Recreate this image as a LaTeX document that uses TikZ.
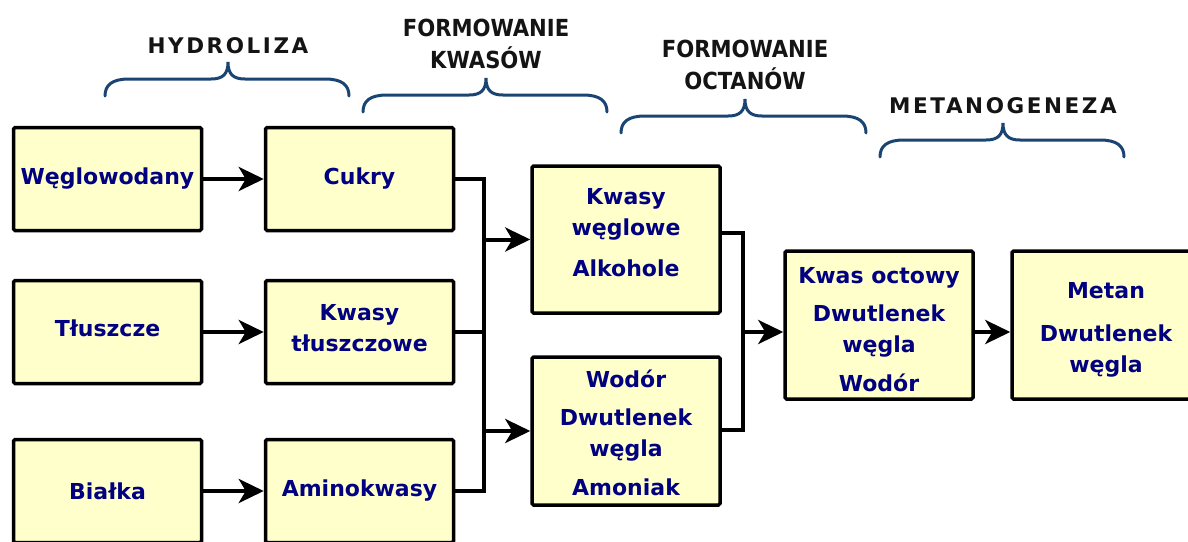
\documentclass[tikz,border=0pt]{standalone}
\usepackage{fontspec}
\setmainfont{DejaVu Sans}
\newfontfamily\bxf{DejaVu Sans Bold}
\newfontfamily\hdsp{DejaVu Sans Bold}[LetterSpace=12]
\newfontfamily\hdcond{DejaVu Sans Condensed Bold}
\usetikzlibrary{arrows.meta}
\definecolor{boxfill}{HTML}{FFFFCC}
\definecolor{boxtext}{HTML}{000080}
\definecolor{bracecol}{HTML}{1A4472}
\tikzset{
  box/.style={draw=black, line width=3.5pt, fill=boxfill, rounded corners=1.5pt,
    minimum width=188pt, text=boxtext, font=\bxf\fontsize{22}{31}\selectfont,
    align=center, inner sep=2pt},
  smallbox/.style={box, minimum height=103pt},
  tallbox/.style={box, minimum height=148pt},
  conn/.style={line width=4pt, draw=black},
  arr/.style={conn, -{Stealth[length=25pt,width=24pt,inset=7pt]}},
  brc/.style={draw=bracecol, line width=3pt, line cap=round},
  hdr/.style={text=black!92, align=center, inner sep=0pt},
  hdrsp/.style={hdr, font=\hdsp\fontsize{21.5}{24}\selectfont},
  hdrcond/.style={hdr, font=\hdcond\fontsize{23.5}{32}\selectfont},
}
\newcommand\mybrace[4]{% left x, middle x, right x, bottom y
  \draw[brc] (#1,#4) .. controls (#1,#4-11) and (#1+7,#4-17) .. (#1+24,#4-17)
    -- (#2-17,#4-17) .. controls (#2-5,#4-17) and (#2,#4-22) .. (#2,#4-34)
    .. controls (#2,#4-22) and (#2+5,#4-17) .. (#2+17,#4-17)
    -- (#3-24,#4-17) .. controls (#3-7,#4-17) and (#3,#4-11) .. (#3,#4);
}
\newcommand\dn[1]{\rule[-#1pt]{0pt}{#1pt}}% extra depth: moves text up by #1/2
\newcommand\up[1]{\rule{0pt}{#1pt}}% extra height on first line: moves text down
\begin{document}
\begin{tikzpicture}[x=1pt,y=-1pt]
\path[use as bounding box, fill=white] (0,0) rectangle (1188,541);
\clip (0,0) rectangle (1188,541);

% headers and braces
\node[hdrsp] (h1) at (228,46) {HYDROLIZA};
\node[hdrcond] (h2) at (486,44) {FORMOWANIE\\KWASÓW};
\node[hdrcond] (h3) at (745,65) {FORMOWANIE\\OCTANÓW};
\node[hdrsp] (h4) at (1003,106) {METANOGENEZA};
\mybrace{105}{228}{349}{96}
\mybrace{363}{486}{607}{112}
\mybrace{621}{745}{866}{133}
\mybrace{880}{1003}{1124}{157}

% boxes
\node[smallbox] (wegl) at (107.5,179) {Węglowodany};
\node[smallbox] (cuk) at (359.5,179) {Cukry};
\node[smallbox] (tlu) at (107.5,332) {Tłuszcze\dn{8}};
\node[smallbox] (ktl) at (359.5,332) {Kwasy\\tłuszczowe\dn{9}};
\node[smallbox] (bia) at (107.5,491) {Białka};
\node[smallbox] (ami) at (359.5,491) {Aminokwasy};
\node[tallbox, minimum height=147pt] (kwe) at (626,239.5) {Kwasy\\węglowe\\[10pt]Alkohole\dn{14}};
\node[tallbox] (wod) at (626,431) {\up{21}Wodór\\[7pt]Dwutlenek\\węgla\\[8pt]Amoniak};
\node[tallbox] (oct) at (879,325) {\up{25}Kwas octowy\\[7pt]Dwutlenek\\węgla\\[8pt]Wodór};
\node[tallbox] (met) at (1106,325) {\up{26}Metan\\[12pt]Dwutlenek\\węgla};

% connectors
\draw[arr] (wegl) -- (cuk);
\draw[arr] (tlu) -- (ktl);
\draw[arr] (bia) -- (ami);

\coordinate (b1) at (484,180);
\draw[conn] (cuk.east) -- (cuk.east -| b1) -- (ami.east -| b1) -- (ami.east);
\draw[conn] (ktl.east) -- (ktl.east -| b1);
\draw[arr] (kwe.west -| b1) -- (kwe.west);
\draw[arr] (wod.west -| b1) -- (wod.west);

\coordinate (b2t) at (743,233);
\coordinate (b2b) at (743,430);
\coordinate (b2m) at (743,332);
\draw[conn] (b2t -| kwe.east) -- (b2t) -- (b2b) -- (b2b -| wod.east);
\draw[arr] (b2m) -- (b2m -| oct.west);
\draw[arr] (b2m -| oct.east) -- (b2m -| met.west);
\end{tikzpicture}
\end{document}
